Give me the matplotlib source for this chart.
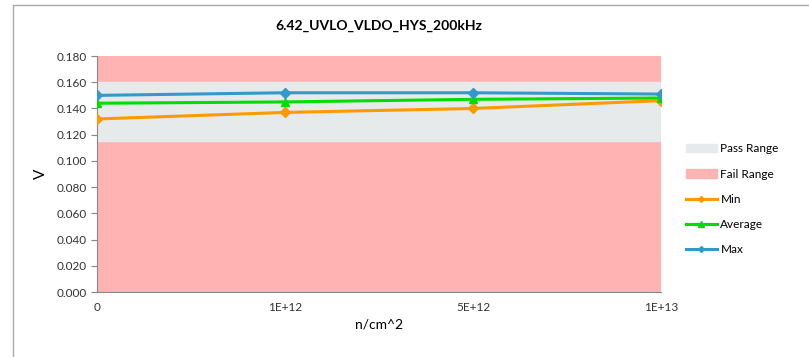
import matplotlib.pyplot as plt
from matplotlib.patches import Patch
from matplotlib.lines import Line2D

plt.rcParams["font.family"] = ["Lato", "DejaVu Sans"]

categories = ["0", "1E+12", "5E+12", "1E+13"]
min_vals = [0.132, 0.137, 0.140, 0.146]
avg_vals = [0.144, 0.145, 0.147, 0.148]
max_vals = [0.150, 0.152, 0.152, 0.151]
pass_low, pass_high = 0.115, 0.160
y_top = 0.180

fig = plt.figure(figsize=(8.09, 3.57), dpi=100)
ax = fig.add_axes([0.12, 0.182, 0.697, 0.661])

x = list(range(len(categories)))
ax.axhspan(0, y_top, color="#ffb3b3", zorder=0)
ax.axhspan(pass_low, pass_high, color="#e6eaea", zorder=1)

ax.plot(x, min_vals, color="#ff9900", lw=2.2, marker="D", ms=5, zorder=3)
ax.plot(x, avg_vals, color="#00dd00", lw=2.2, marker="^", ms=6, zorder=4)
ax.plot(x, max_vals, color="#3399cc", lw=2.2, marker="D", ms=5, zorder=5)

ax.set_xlim(0, 3)
ax.set_ylim(0, y_top)
ax.set_xticks(x)
ax.set_xticklabels(categories)
ax.set_yticks([i * 0.02 for i in range(10)])
ax.set_yticklabels([f"{i * 0.02:.3f}" for i in range(10)])
ax.tick_params(labelsize=8.5, colors="#333333", length=4, color="#888888")
ax.tick_params(axis="x", length=0, pad=7)
for s in ["top", "right"]:
    ax.spines[s].set_visible(False)
for s in ["left", "bottom"]:
    ax.spines[s].set_color("#888888")

ax.set_title("6.42_UVLO_VLDO_HYS_200kHz", fontsize=10, fontweight="bold", pad=19)
ax.set_xlabel("n/cm^2", fontsize=10, labelpad=4)
ax.set_ylabel("V", fontsize=11, labelpad=6)

handles = [
    Patch(color="#e6eaea", label="Pass Range"),
    Patch(color="#ffb3b3", label="Fail Range"),
    Line2D([], [], color="#ff9900", lw=2.2, marker="D", ms=3, label="Min"),
    Line2D([], [], color="#00dd00", lw=2.2, marker="^", ms=4, label="Average"),
    Line2D([], [], color="#3399cc", lw=2.2, marker="D", ms=3, label="Max"),
]
fig.legend(handles=handles, loc="upper left", bbox_to_anchor=(0.835, 0.628),
           frameon=False, fontsize=8.5, handlelength=2.6, labelspacing=1.2,
           handletextpad=0.3)

# partial chart-area border (top and left edges)
fig.add_artist(Line2D([12.5 / 809, 1], [1 - 4.5 / 357] * 2, transform=fig.transFigure,
                      color="#aaaaaa", lw=1))
fig.add_artist(Line2D([12.5 / 809] * 2, [0, 1 - 4.5 / 357], transform=fig.transFigure,
                      color="#aaaaaa", lw=1))

fig.savefig("out.png", dpi=100)
